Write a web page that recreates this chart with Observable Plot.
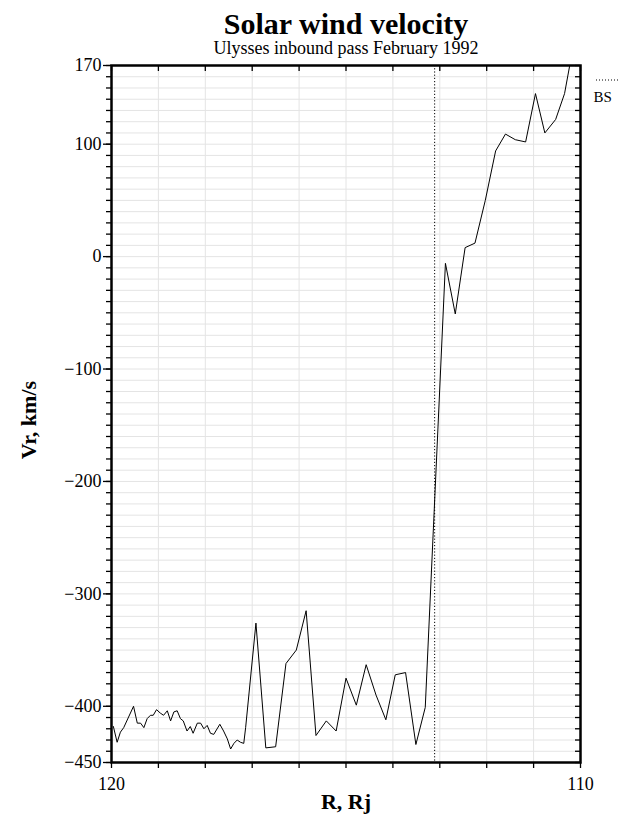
<!DOCTYPE html>
<html>
<head>
<meta charset="utf-8">
<script src="https://cdn.jsdelivr.net/npm/d3@7"></script>
<script src="https://cdn.jsdelivr.net/npm/@observablehq/plot@0.6"></script>
<style>
  html, body { margin: 0; padding: 0; background: #fff; }
  #chart svg { display: block; }
  #chart svg text { font-family: 'Liberation Serif', 'Times New Roman', serif; }
</style>
</head>
<body>
<div id="chart"></div>
<script>
// Radial distance (Rj) and radial velocity Vr (km/s)
const distanceRj = [119.96,119.88,119.81,119.74,119.53,119.45,119.38,119.31,119.24,119.17,119.11,119.04,118.96,118.89,118.81,118.74,118.67,118.60,118.53,118.47,118.39,118.32,118.26,118.17,118.10,118.03,117.96,117.89,117.82,117.69,117.61,117.53,117.46,117.39,117.32,117.25,117.18,117.14,116.92,116.71,116.50,116.28,116.06,115.85,115.64,115.42,115.21,115.00,114.78,114.57,114.36,114.15,113.95,113.73,113.51,113.31,112.88,112.67,112.46,112.25,112.03,111.81,111.60,111.39,111.17,110.96,110.76,110.53,110.34,110.23];
const velocityVr = [-418,-432,-423,-419,-400,-415,-415,-419,-411,-408,-408,-403,-406,-408,-404,-413,-405,-404,-411,-413,-422,-418,-424,-415,-415,-420,-417,-424,-425,-416,-422,-429,-438,-433,-430,-432,-433,-419,-326,-437,-436,-362,-350,-315,-426,-413,-422,-375,-399,-363,-390,-412,-372,-370,-434,-401,-6,-51,8,12,50,94,109,104,102,145,110,122,145,170];
const bowShockRj = [113.11];
const xDomain = [120, 110];
const yDomain = [-450, 170];
const xTicks = [110,111,112,113,114,115,116,117,118,119,120];
const xTickLabels = [120, 110];
const yMajorTicks = [170, 100, 0, -100, -200, -300, -400, -450];
const yMinorTicks = d3.range(-450, 171, 10);
const titleText = ["Solar wind velocity"];
const subtitleText = ["Ulysses inbound pass February 1992"];
const xLabel = ["R, Rj"];
const yLabel = ["Vr, km/s"];
const legendLabel = ["BS"];

const data = distanceRj.map((r, i) => ({r, v: velocityVr[i]}));

const W = 622, H = 823, mT = 65, mB = 61, mL = 111, mR = 42;
const plotW = W - mL - mR, plotH = H - mT - mB;
const fmt = d => d < 0 ? "\u2212" + Math.abs(d) : String(d);
const font = "'Liberation Serif', 'Times New Roman', serif";

const chart = Plot.plot({
  width: W, height: H,
  marginTop: mT, marginBottom: mB, marginLeft: mL, marginRight: mR,
  style: {fontFamily: font, color: "black", background: "white"},
  x: {domain: xDomain},
  y: {domain: yDomain},
  marks: [
    Plot.gridX(xTicks, {stroke: "#e4e4e4", strokeOpacity: 1, strokeWidth: 1}),
    Plot.gridY(yMinorTicks, {stroke: "#e4e4e4", strokeOpacity: 1, strokeWidth: 1}),
    Plot.ruleX(bowShockRj, {x: d => d, stroke: "black", strokeWidth: 1, strokeDasharray: "1.2,2"}),
    Plot.line(data, {x: "r", y: "v", stroke: "black", strokeWidth: 1, clip: true}),
    // left axis: minor ticks + labelled major ticks
    Plot.axisY(yMinorTicks, {anchor: "left", tickSize: 5, tickFormat: () => "", label: null, strokeWidth: 1.3}),
    Plot.axisY(yMajorTicks, {anchor: "left", tickSize: 8, tickPadding: 2, tickFormat: fmt, label: null, fontSize: 18, fontFamily: font, strokeWidth: 1.3}),
    // right inward ticks
    Plot.tickY(yMinorTicks, {y: d => d, insetLeft: plotW - 5, stroke: "black", strokeWidth: 1.3}),
    // bottom axis
    Plot.axisX(xTicks, {anchor: "bottom", tickSize: 6, tickPadding: 9, tickFormat: d => xTickLabels.includes(d) ? String(d) : "", label: null, fontSize: 18, fontFamily: font, strokeWidth: 1.3}),
    // top inward ticks
    Plot.tickX(xTicks, {x: d => d, insetBottom: plotH - 6, stroke: "black", strokeWidth: 1.3}),
    Plot.frame({stroke: "black", strokeWidth: 2.5}),
    // titles and axis labels
    Plot.text(titleText, {text: d => d, frameAnchor: "top", dy: -32, lineAnchor: "bottom", fontSize: 30, fontWeight: "bold", fontFamily: font}),
    Plot.text(subtitleText, {text: d => d, frameAnchor: "top", dy: -12, lineAnchor: "bottom", fontSize: 18, fontFamily: font}),
    Plot.text(xLabel, {text: d => d, frameAnchor: "bottom", dy: 46, lineAnchor: "bottom", fontSize: 22, fontWeight: "bold", fontFamily: font}),
    Plot.text(yLabel, {text: d => d, frameAnchor: "left", dx: -83, dy: 6, rotate: -90, textAnchor: "middle", lineAnchor: "middle", fontSize: 22, fontWeight: "bold", fontFamily: font}),
    Plot.text(legendLabel, {text: d => d, frameAnchor: "top-right", dx: 13, dy: 36, textAnchor: "start", lineAnchor: "bottom", fontSize: 15, fontFamily: font})
  ]
});

// legend sample (dotted line for BS)
d3.select(chart).append("line")
  .attr("x1", W - mR + 16).attr("x2", W - 2)
  .attr("y1", mT + 15).attr("y2", mT + 15)
  .attr("stroke", "black").attr("stroke-width", 1)
  .attr("stroke-dasharray", "1,2");

document.getElementById("chart").appendChild(chart);
</script>
</body>
</html>
